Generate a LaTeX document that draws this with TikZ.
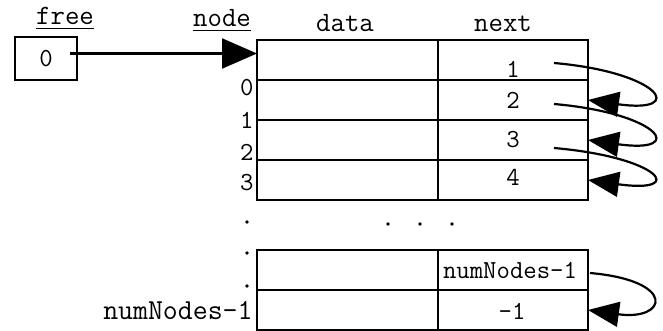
\documentclass[tikz,border=0pt]{standalone}
\usepackage{fontspec}
\usetikzlibrary{arrows.meta}

\tikzset{
  cell/.style={draw, line width=1.1pt, minimum height=20pt, inner sep=0pt, outer sep=0pt},
  dcell/.style={cell, minimum width=90.5pt},
  ncell/.style={cell, minimum width=75pt},
  val/.style={font=\ttfamily\fontsize{13}{15}\selectfont, inner sep=0pt},
  head/.style={font=\ttfamily\fontsize{14}{16}\selectfont, anchor=base, inner sep=0pt},
  link/.style={line width=1.1pt, -{Triangle[length=15.5pt,width=12.5pt]}},
}

\begin{document}
\begin{tikzpicture}[x=0.5pt,y=-0.5pt]
    \useasboundingbox (0,0) rectangle (663,331);

    % first rows of the array
    \foreach \i in {0,...,3} {
        \node[dcell] (data\i) at (347.5,60+40*\i) {};
        \node[ncell] (next\i) at (513,60+40*\i) {};
    }
    % last two rows
    \node[dcell] (dataM) at (347.5,270) {};
    \node[ncell] (nextM) at (513,270) {};
    \node[dcell] (dataN) at (347.5,310) {};
    \node[ncell] (nextN) at (513,310) {};

    % next fields
    \foreach \i/\v/\y in {0/1/69,1/2/100,2/3/140,3/4/177}
        \node[val] (val\i) at (513,\y) {\v};
    \node[val] (valM) at (510,270) {numNodes-1};
    \node[val] (valN) at (512,311) {-1};

    % indices
    \foreach \i/\y in {0/88,1/120,2/152,3/183}
        \node[val, anchor=east] (idx\i) at (254,\y) {\i};
    \node[head, font=\ttfamily\fontsize{14.5}{16}\selectfont, anchor=east] (idxN) at (253,311) {numNodes-1};

    % skipped rows
    \foreach \y in {222,253,286}
        \fill (247,\y) circle (0.9pt);
    \foreach \x in {388,420,452}
        \fill (\x,224) circle (0.9pt);

    % free pointer
    \node[cell, val, minimum width=31pt, minimum height=21.5pt] (free) at (46,58.5) {0};

    % headings
    \node[head] (freelbl) at (65,25) {\underline{free}};
    \node[head] (nodelbl) at (222,27) {\underline{node}};
    \node[head] (datalbl) at (345,32) {data};
    \node[head] (nextlbl) at (503,32) {next};

    % arrows
    \coordinate (freeout) at ([shift={(-3.5pt,2.5pt)}]free.east);
    \draw[line width=1.1pt, -{Triangle[length=17.5pt,width=15pt]}] (freeout) -- (freeout -| data0.west);

    \foreach \i/\j/\s in {0/1/63,1/2/104,2/3/148}
        \draw[link] (554,\s) coordinate (from\i)
            to[out=-5, in=-8, out distance=54pt, in distance=50pt] (next\j.east);
    \draw[link] (590,273) coordinate (fromM)
        to[out=-5, in=-8, out distance=44pt, in distance=40pt] (nextN.east);

\end{tikzpicture}
\end{document}
